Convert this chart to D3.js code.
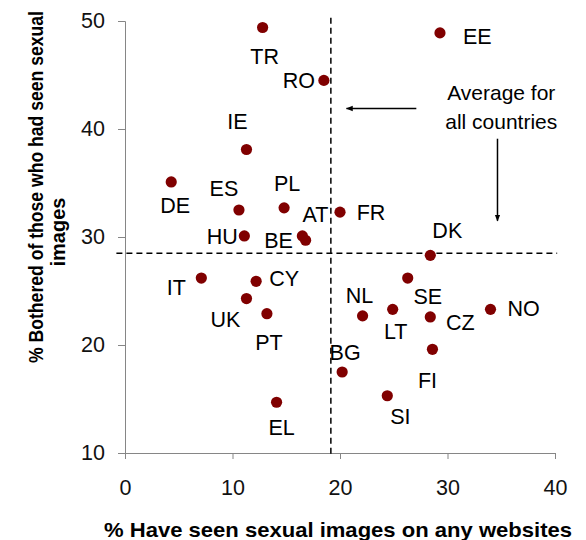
<!DOCTYPE html>
<html>
<head>
  <meta charset="utf-8">
  <title>sexual images scatter</title>
  <script src="https://cdnjs.cloudflare.com/ajax/libs/d3/7.8.5/d3.min.js"></script>
</head>
<style>
  body { margin: 0; background: #fff; }
  svg { display: block; font-family: Arial, "Liberation Sans", sans-serif; }
</style>
<body>
<svg id="svg" width="586" height="540"></svg>
<script type="text/javascript">
// data
const countries = ['TR', 'RO', 'EE', 'IE', 'DE', 'ES', 'PL', 'AT', 'BE', 'HU', 'FR', 'DK', 'SE',
  'NL', 'LT', 'CZ', 'NO', 'FI', 'BG', 'SI', 'EL', 'IT', 'CY', 'UK', 'PT'];
const seenPct = [12.8, 18.5, 29.3, 11.3, 4.3, 10.6, 14.8, 16.5, 16.8, 11.1, 20.0, 28.4, 26.3,
  22.1, 24.9, 28.4, 34.0, 28.6, 20.2, 24.4, 14.1, 7.1, 12.2, 11.3, 13.2];
const botheredPct = [49.4, 44.5, 48.9, 38.1, 35.1, 32.5, 32.7, 30.1, 29.7, 30.1, 32.3, 28.3, 26.2,
  22.7, 23.3, 22.6, 23.3, 19.6, 17.5, 15.3, 14.7, 26.2, 25.9, 24.3, 22.9];
const avgSeen = 19.15;
const avgBothered = 28.5;
const xTicks = [0, 10, 20, 30, 40];
const yTicks = [10, 20, 30, 40, 50];

// label placement relative to each dot (px)
const labelPos = {
  TR: [2, 29], RO: [-9, 0, 'end'], EE: [23, 4, 'start'], IE: [-9, -28], DE: [4, 24],
  ES: [-15, -22], PL: [3, -24], AT: [13, -21], BE: [-27, 0], HU: [-22, 1], FR: [31, 0],
  DK: [17, -25], SE: [20, 18], NL: [-3, -20], LT: [3, 22], CZ: [30, 6], NO: [33, -1],
  FI: [-5, 31], BG: [3, -20], SI: [13, 21], EL: [5, 25], IT: [-25, 9], CY: [28, -3],
  UK: [-21, 21], PT: [2, 29]
};

const svg = d3.select('#svg');
const x = d3.scaleLinear().domain([0, 40]).range([125, 555]);
const y = d3.scaleLinear().domain([10, 50]).range([453, 21]);

const defs = svg.append('defs');
defs.append('marker')
  .attr('id', 'head')
  .attr('viewBox', '0 0 10 10')
  .attr('refX', 9).attr('refY', 5)
  .attr('markerWidth', 7).attr('markerHeight', 7)
  .attr('markerUnits', 'userSpaceOnUse')
  .attr('orient', 'auto')
  .append('path').attr('d', 'M0,1 L10,5 L0,9 Z').attr('fill', '#000');

// axes
const gx = svg.append('g')
  .attr('transform', `translate(0,${y(10)})`)
  .call(d3.axisBottom(x).tickValues(xTicks).tickSize(6).tickPadding(21));
const gy = svg.append('g')
  .attr('transform', `translate(${x(0)},0)`)
  .call(d3.axisLeft(y).tickValues(yTicks).tickSize(7).tickPadding(13));
[gx, gy].forEach(g => {
  g.select('.domain').attr('stroke', '#868686');
  g.selectAll('.tick line').attr('stroke', '#868686');
  g.selectAll('.tick text').attr('fill', '#111').style('font-size', '21.5px')
    .style('font-family', 'Arial, "Liberation Sans", sans-serif');
});

// average lines
svg.append('line')
  .attr('x1', x(avgSeen)).attr('x2', x(avgSeen))
  .attr('y1', y(50.3)).attr('y2', y(9.8))
  .attr('stroke', '#000').attr('stroke-width', 1.5).attr('stroke-dasharray', '6,4');
svg.append('line')
  .attr('x1', x(-0.8)).attr('x2', x(40.2))
  .attr('y1', y(avgBothered)).attr('y2', y(avgBothered))
  .attr('stroke', '#000').attr('stroke-width', 1.5).attr('stroke-dasharray', '6,4');

// annotation
svg.append('line')
  .attr('x1', x(27.1)).attr('x2', x(20.6))
  .attr('y1', y(41.9)).attr('y2', y(41.9))
  .attr('stroke', '#000').attr('stroke-width', 1.5).attr('marker-end', 'url(#head)');
svg.append('line')
  .attr('x1', x(34.65)).attr('x2', x(34.65))
  .attr('y1', y(39.1)).attr('y2', y(31.5))
  .attr('stroke', '#000').attr('stroke-width', 1.5).attr('marker-end', 'url(#head)');
svg.append('text')
  .attr('x', x(35.0)).attr('y', y(43.4))
  .attr('text-anchor', 'middle')
  .style('font-size', '21px')
  .selectAll('tspan')
  .data(['Average for', 'all countries'])
  .join('tspan')
  .attr('x', x(35.0))
  .attr('dy', (d, i) => i ? '1.38em' : '0.35em')
  .text(d => d);

// points
const pts = countries.map((c, i) => ({ c, sx: seenPct[i], sy: botheredPct[i] }));
svg.append('g').selectAll('circle')
  .data(pts)
  .join('circle')
  .attr('cx', d => x(d.sx))
  .attr('cy', d => y(d.sy))
  .attr('r', 5.6)
  .attr('fill', '#800000');

svg.append('g').selectAll('text')
  .data(pts)
  .join('text')
  .attr('x', d => x(d.sx) + labelPos[d.c][0])
  .attr('y', d => y(d.sy) + labelPos[d.c][1])
  .attr('dy', '0.35em')
  .attr('text-anchor', d => labelPos[d.c][2] || 'middle')
  .attr('fill', '#000')
  .style('font-size', '21.5px')
  .text(d => d.c);

// titles
svg.append('text')
  .attr('x', 338).attr('y', 537)
  .attr('text-anchor', 'middle')
  .attr('textLength', 468).attr('lengthAdjust', 'spacingAndGlyphs')
  .style('font-size', '21px').style('font-weight', 'bold')
  .text('% Have seen sexual images on any websites');

svg.append('text')
  .attr('transform', 'translate(43,187) rotate(-90)')
  .attr('text-anchor', 'middle')
  .attr('textLength', 352).attr('lengthAdjust', 'spacingAndGlyphs')
  .style('font-size', '20px').style('font-weight', 'bold')
  .text('% Bothered of those who had seen sexual');
svg.append('text')
  .attr('transform', 'translate(65,232) rotate(-90)')
  .attr('text-anchor', 'middle')
  .style('font-size', '20px').style('font-weight', 'bold')
  .text('images');
</script>
</body>
</html>
